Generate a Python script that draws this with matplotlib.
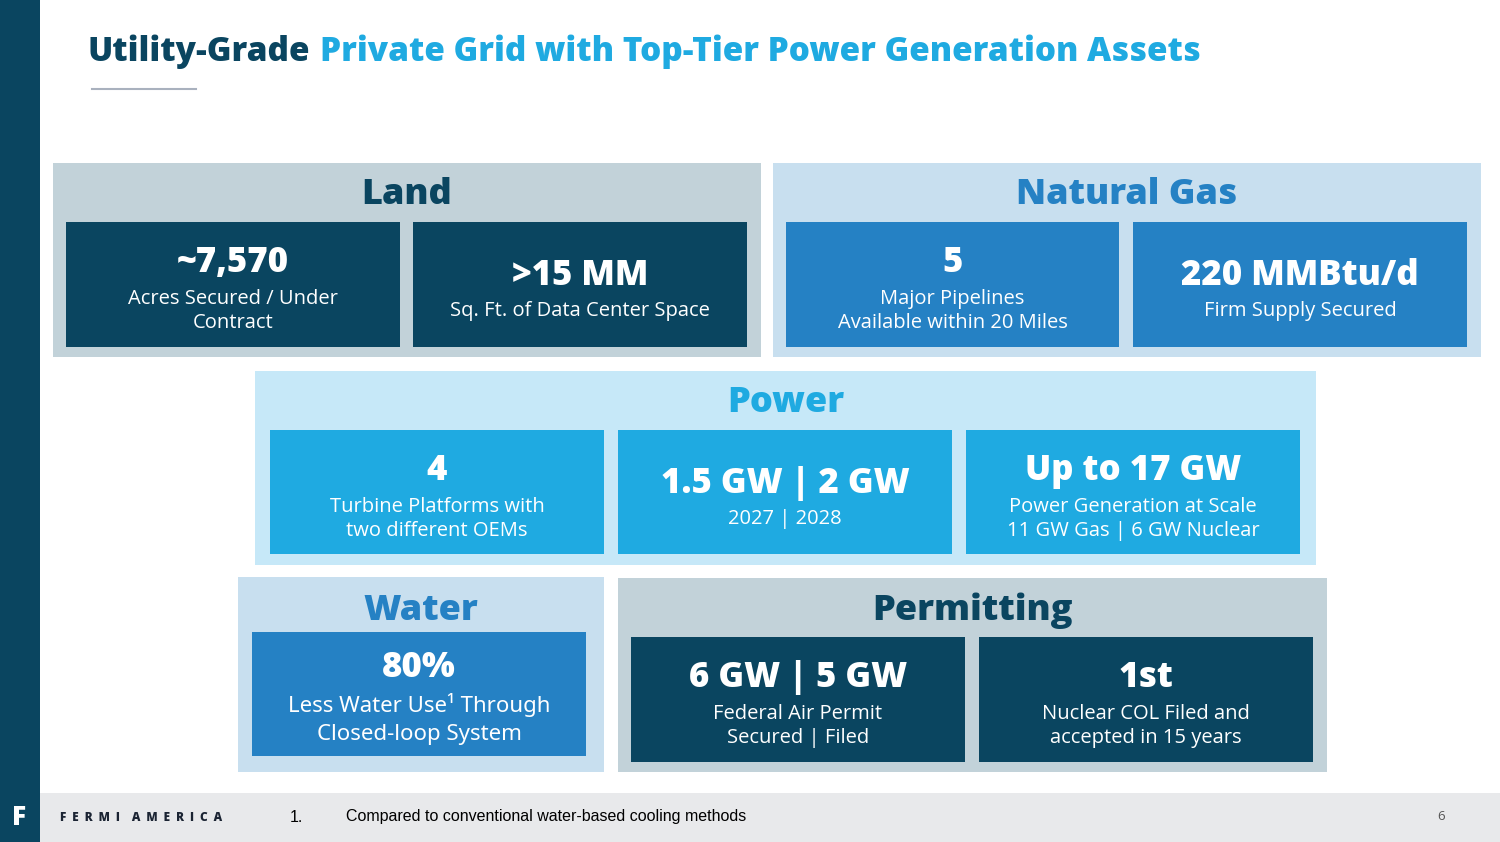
import matplotlib
matplotlib.use("Agg")
import matplotlib.pyplot as plt
from matplotlib.patches import Rectangle

# slide content
title_dark = "Utility-Grade"
title_light = "Private Grid with Top-Tier Power Generation Assets"

sections = ["Land", "Natural Gas", "Power", "Water", "Permitting"]
headlines = [
    ["~7,570", ">15 MM"],
    ["5", "220 MMBtu/d"],
    ["4", "1.5 GW | 2 GW", "Up to 17 GW"],
    ["80%"],
    ["6 GW | 5 GW", "1st"],
]
details = [
    ["Acres Secured / Under\nContract", "Sq. Ft. of Data Center Space"],
    ["Major Pipelines\nAvailable within 20 Miles", "Firm Supply Secured"],
    ["Turbine Platforms with\ntwo different OEMs", "2027 | 2028",
     "Power Generation at Scale\n11 GW Gas | 6 GW Nuclear"],
    ["Less Water Use\u00b9 Through\nClosed-loop System"],
    ["Federal Air Permit\nSecured | Filed", "Nuclear COL Filed and\naccepted in 15 years"],
]
footnote = "Compared to conventional water-based cooling methods"
brand = "F  E  R  M  I    A  M  E  R  I  C  A"
page_no = "6"

# colours
navy = "#0A4560"
mid_blue = "#2581C4"
sky = "#1FAAE1"
panel_bg = ["#C2D2D9", "#C8DFEF", "#C6E8F8", "#C8DFEF", "#C2D2D9"]
box_bg = [navy, mid_blue, sky, mid_blue, navy]
head_col = [navy, mid_blue, sky, mid_blue, navy]

# layout in slide pixels (x0, x1, y0, y1)
panels = [(53, 761, 163, 357), (773, 1481, 163, 357), (255, 1316, 371, 565),
          (238, 604, 577, 772), (618, 1327, 578, 772)]
head_y = [195, 195, 403, 611, 611]
boxes = [
    [(66, 400), (413, 747)],
    [(786, 1119), (1133, 1467)],
    [(270, 604), (618, 952), (966, 1300)],
    [(252, 586)],
    [(631, 965), (979, 1313)],
]
box_y = [(222, 347), (222, 347), (430, 554), (632, 756), (637, 762)]

plt.rcParams["font.family"] = ["Open Sans", "DejaVu Sans"]

fig = plt.figure(figsize=(15, 8.42), dpi=100)
ax = fig.add_axes([0, 0, 1, 1])
ax.set_xlim(0, 1500)
ax.set_ylim(842, 0)
ax.axis("off")

# side bar and footer
ax.add_patch(Rectangle((0, 0), 40, 842, color=navy, lw=0))
ax.add_patch(Rectangle((40, 793), 1460, 49, color="#E8E9EB", lw=0))
ax.text(19, 818, "F", color="white", fontsize=19, fontweight="heavy",
        ha="center", va="center")
ax.text(60, 818, brand, color="#1B2433", fontsize=8.5, fontweight="heavy",
        ha="left", va="center")
ax.text(290, 817, "1.", color="black", fontsize=11.5, ha="left", va="center",
        family=["Liberation Sans"])
ax.text(346, 817, footnote, color="black", fontsize=11.5, ha="left", va="center",
        family=["Liberation Sans"])
ax.text(1441, 817, page_no, color="#555555", fontsize=9.5, ha="center", va="center")

# title
t1 = ax.text(87, 52, title_dark, color=navy, fontsize=24, fontweight="heavy",
             ha="left", va="center")
fig.canvas.draw()
bb = t1.get_window_extent()
x_after = ax.transData.inverted().transform((bb.x1, bb.y0))[0]
ax.text(x_after + 10, 52, title_light, color=sky, fontsize=24, fontweight="heavy",
        ha="left", va="center")
ax.plot([92, 196], [89, 89], color="#A9B1BE", lw=1.5)

for i, name in enumerate(sections):
    x0, x1, y0, y1 = panels[i]
    ax.add_patch(Rectangle((x0, y0), x1 - x0, y1 - y0, color=panel_bg[i], lw=0))
    ax.text((x0 + x1) / 2, head_y[i], name, color=head_col[i], fontsize=26,
            fontweight="heavy", ha="center", va="center")
    by0, by1 = box_y[i]
    for j, (bx0, bx1) in enumerate(boxes[i]):
        ax.add_patch(Rectangle((bx0, by0), bx1 - bx0, by1 - by0,
                               color=box_bg[i], lw=0))
        cx = (bx0 + bx1) / 2
        n_lines = details[i][j].count("\n") + 1
        if i == 3:
            # water box uses a different body font
            ax.text(cx, by0 + 36, headlines[i][j], color="white", fontsize=25,
                    fontweight="heavy", ha="center", va="center")
            ax.text(cx, by0 + 87, details[i][j], color="white", fontsize=16,
                    ha="center", va="center", linespacing=1.45,
                    family=["Noto Sans", "DejaVu Sans"])
            continue
        if n_lines == 2:
            hy, dy = by0 + 41, by0 + 89
        else:
            hy, dy = by0 + 54, by0 + 89
        ax.text(cx, hy, headlines[i][j], color="white", fontsize=25,
                fontweight="heavy", ha="center", va="center")
        ax.text(cx, dy, details[i][j], color="white", fontsize=14.5,
                ha="center", va="center", linespacing=1.3)

fig.savefig("out.png", dpi=100)
